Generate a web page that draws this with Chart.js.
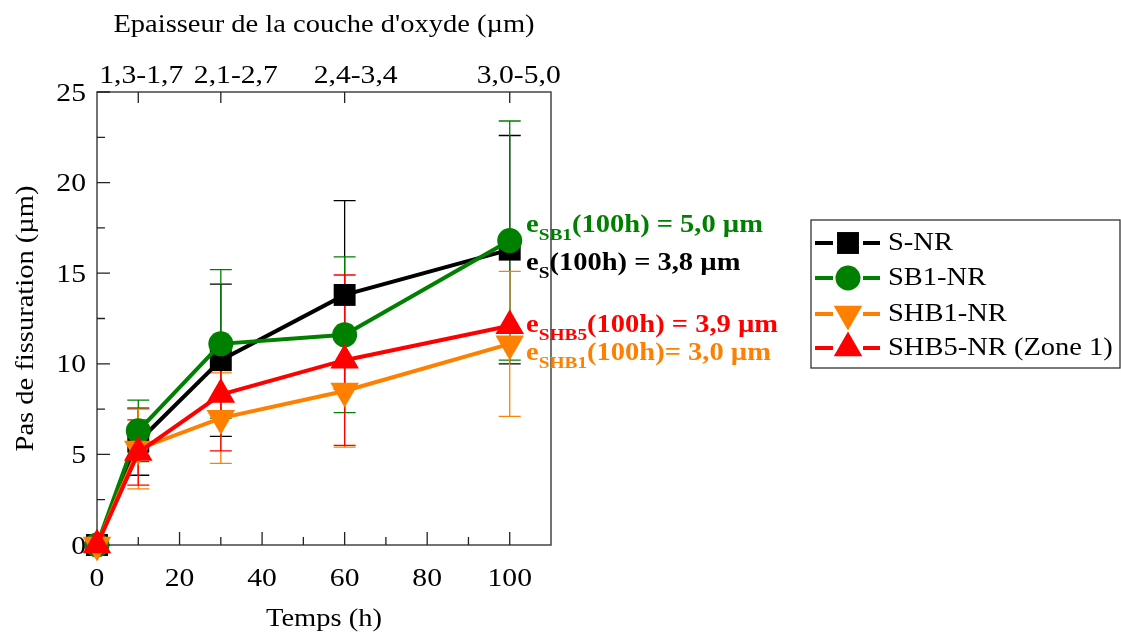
<!DOCTYPE html>
<html><head><meta charset="utf-8">
<script src="https://cdn.jsdelivr.net/npm/chart.js@4/dist/chart.umd.min.js"></script>
<style>html,body{margin:0;padding:0;background:#fff}canvas{display:block}</style>
</head><body>
<canvas id="c" width="1121" height="635" style="width:1121px;height:635px"></canvas>
<script>
// ---- data ----
const times = [0, 10, 30, 60, 100];
const sNR = [0, 5.7, 10.2, 13.8, 16.3];
const sNRErr = [0, 1.85, 4.2, 5.2, 6.3];
const sb1NR = [0, 6.3, 11.1, 11.6, 16.8];
const sb1NRErr = [0, 1.7, 4.1, 4.3, 6.6];
const shb1NR = [0, 5.3, 7.0, 8.5, 11.1];
const shb1NRErr = [0, 2.2, 2.5, 3.1, 4.0];
const shb5NR = [0, 5.1, 8.3, 10.2, 12.1];
const shb5NRErr = [0, 1.8, 3.1, 4.7, 0];
const seriesNames = ['S-NR', 'SB1-NR', 'SHB1-NR', 'SHB5-NR (Zone 1)'];
const xTicks = [0, 20, 40, 60, 80, 100];
const xMinorTicks = [10, 30, 50, 70, 90];
const yTicks = [0, 5, 10, 15, 20, 25];
const yMinorTicks = [2.5, 7.5, 12.5, 17.5, 22.5];
const topTickTimes = [10, 30, 60, 100];
const topTickLabels = ['1,3-1,7', '2,1-2,7', '2,4-3,4', '3,0-5,0'];
const xTitle = 'Temps (h)';
const yTitle = 'Pas de fissuration (µm)';
const topTitle = "Epaisseur de la couche d'oxyde (µm)";
const annoSub = ['SB1', 'S', 'SHB5', 'SHB1'];
const annoRest = ['(100h) = 5,0 µm', '(100h) = 3,8 µm', '(100h) = 3,9 µm', '(100h)= 3,0 µm'];

// ---- styles ----
const colors = ['#000000', '#008000', '#FF8000', '#FF0000'];
const styles = [
  {pointStyle: 'rect', radius: 15.5, rotation: 0},
  {pointStyle: 'circle', radius: 12.5, rotation: 0},
  {pointStyle: 'triangle', radius: 16.5, rotation: 180},
  {pointStyle: 'triangle', radius: 16.5, rotation: 0}
];
const topLabelShift = [3, 15, 11, 9];
const values = [sNR, sb1NR, shb1NR, shb5NR];
const errors = [sNRErr, sb1NRErr, shb1NRErr, shb5NRErr];
const annoColors = ['#008000', '#000000', '#FF0000', '#FF8000'];
const annoBaselines = [232, 270, 332, 360];
const FONT = '"Liberation Serif", "Times New Roman", serif';
const SX = 1.14;

function txt(ctx, s, x, y, size, o) {
  o = o || {};
  ctx.save();
  ctx.font = (o.bold ? 'bold ' : '') + size + 'px ' + FONT;
  ctx.fillStyle = o.color || '#000';
  ctx.textBaseline = o.baseline || 'alphabetic';
  ctx.textAlign = o.align || 'left';
  ctx.translate(x, y);
  if (o.rot) ctx.rotate(o.rot);
  ctx.scale(SX, 1);
  ctx.fillText(s, 0, 0);
  ctx.restore();
}
function tw(ctx, s, size, bold) {
  ctx.save();
  ctx.font = (bold ? 'bold ' : '') + size + 'px ' + FONT;
  const w = ctx.measureText(s).width * SX;
  ctx.restore();
  return w;
}

const decor = {
  id: 'decor',
  beforeDraw(chart) {
    const ctx = chart.ctx;
    ctx.save();
    ctx.fillStyle = '#fff';
    ctx.fillRect(0, 0, chart.width, chart.height);
    ctx.restore();
  },
  beforeDatasetsDraw(chart) {
    const ctx = chart.ctx, a = chart.chartArea;
    const xs = chart.scales.x, ys = chart.scales.y, xt = chart.scales.x2;
    ctx.save();
    // frame
    ctx.strokeStyle = '#444';
    ctx.lineWidth = 1.5;
    ctx.strokeRect(a.left, a.top, a.right - a.left, a.bottom - a.top);
    ctx.strokeStyle = '#222';
    ctx.lineWidth = 1.3;
    ctx.beginPath();
    xs.ticks.forEach(t => { const p = xs.getPixelForValue(t.value); ctx.moveTo(p, a.bottom); ctx.lineTo(p, a.bottom - 13); });
    xMinorTicks.forEach(v => { const p = xs.getPixelForValue(v); ctx.moveTo(p, a.bottom); ctx.lineTo(p, a.bottom - 8); });
    ys.ticks.forEach(t => { const p = ys.getPixelForValue(t.value); ctx.moveTo(a.left, p); ctx.lineTo(a.left + 13, p); });
    yMinorTicks.forEach(v => { const p = ys.getPixelForValue(v); ctx.moveTo(a.left, p); ctx.lineTo(a.left + 8, p); });
    xt.ticks.forEach(t => { const p = xt.getPixelForValue(t.value); ctx.moveTo(p, a.top); ctx.lineTo(p, a.top + 11); });
    ctx.stroke();
    // tick labels
    xs.ticks.forEach(t => txt(ctx, String(t.value), xs.getPixelForValue(t.value), 586, 26, {align: 'center'}));
    ys.ticks.forEach(t => txt(ctx, String(t.value), a.left - 11, ys.getPixelForValue(t.value) + 8.5, 26, {align: 'right'}));
    xt.ticks.forEach(t => {
      const k = topTickTimes.indexOf(t.value);
      txt(ctx, topTickLabels[k], xt.getPixelForValue(t.value) + topLabelShift[k], 83, 26, {align: 'center'});
    });
    // error bars
    ctx.lineWidth = 1.3;
    values.forEach((vals, si) => {
      ctx.strokeStyle = colors[si];
      ctx.beginPath();
      vals.forEach((v, i) => {
        const e = errors[si][i];
        if (!e) return;
        const px = xs.getPixelForValue(times[i]);
        const pt = ys.getPixelForValue(v + e), pb = ys.getPixelForValue(v - e);
        ctx.moveTo(px, pt); ctx.lineTo(px, pb);
        ctx.moveTo(px - 11, pt); ctx.lineTo(px + 11, pt);
        ctx.moveTo(px - 11, pb); ctx.lineTo(px + 11, pb);
      });
      ctx.stroke();
    });
    ctx.restore();
  },
  afterDraw(chart) {
    const ctx = chart.ctx, a = chart.chartArea;
    const cx = (a.left + a.right) / 2, cy = (a.top + a.bottom) / 2;
    txt(ctx, topTitle, cx, 32, 25, {align: 'center'});
    txt(ctx, xTitle, cx, 626, 25, {align: 'center'});
    txt(ctx, yTitle, 33, cy, 25, {align: 'center', rot: -Math.PI / 2});
    // annotations
    annoSub.forEach((sub, i) => {
      let x = 526;
      const b = annoBaselines[i];
      const c = annoColors[i];
      txt(ctx, 'e', x, b, 25, {bold: true, color: c});
      x += tw(ctx, 'e', 25, true);
      txt(ctx, sub, x, b + 8, 17, {bold: true, color: c});
      x += tw(ctx, sub, 17, true);
      txt(ctx, annoRest[i], x, b, 25, {bold: true, color: c});
    });
    // legend
    ctx.save();
    ctx.strokeStyle = '#333';
    ctx.lineWidth = 1.3;
    ctx.strokeRect(811, 220, 309, 148);
    const rows = [243, 278, 314, 348];
    seriesNames.forEach((name, i) => {
      const y = rows[i];
      ctx.strokeStyle = colors[i];
      ctx.fillStyle = colors[i];
      ctx.lineWidth = 4;
      ctx.beginPath();
      ctx.moveTo(815, y); ctx.lineTo(833, y);
      ctx.moveTo(863, y); ctx.lineTo(880, y);
      ctx.stroke();
      Chart.helpers.drawPoint(ctx, {pointStyle: styles[i].pointStyle, radius: styles[i].radius, rotation: styles[i].rotation, borderWidth: 0}, 848, y);
      txt(ctx, name, 888, y, 25, {baseline: 'middle'});
    });
    ctx.restore();
  }
};

const datasets = values.map((vals, si) => ({
  label: seriesNames[si],
  data: times.map((t, i) => ({x: t, y: vals[i]})),
  borderColor: colors[si],
  backgroundColor: colors[si],
  borderWidth: 4,
  showLine: true,
  pointStyle: styles[si].pointStyle,
  pointRadius: styles[si].radius,
  pointHoverRadius: styles[si].radius,
  pointRotation: styles[si].rotation,
  pointBorderWidth: 0,
  pointBackgroundColor: colors[si],
  clip: false,
  order: 4 - si
}));

new Chart(document.getElementById('c'), {
  type: 'scatter',
  data: {datasets},
  options: {
    responsive: false,
    animation: false,
    events: [],
    layout: {padding: {left: 0, right: 570, top: 0, bottom: 0}},
    plugins: {legend: {display: false}, tooltip: {enabled: false}, title: {display: false}},
    scales: {
      x: {
        type: 'linear', position: 'bottom', min: 0, max: 110,
        afterBuildTicks: s => { s.ticks = xTicks.map(v => ({value: v})); },
        afterFit: s => { s.height = 90; },
        grid: {display: false, drawTicks: false},
        border: {display: false},
        ticks: {display: false}
      },
      x2: {
        type: 'linear', position: 'top', min: 0, max: 110,
        afterBuildTicks: s => { s.ticks = topTickTimes.map(v => ({value: v})); },
        afterFit: s => { s.height = 92; },
        grid: {display: false, drawTicks: false},
        border: {display: false},
        ticks: {display: false}
      },
      y: {
        type: 'linear', position: 'left', min: 0, max: 25,
        afterBuildTicks: s => { s.ticks = yTicks.map(v => ({value: v})); },
        afterFit: s => { s.width = 97; },
        grid: {display: false, drawTicks: false},
        border: {display: false},
        ticks: {display: false}
      }
    }
  },
  plugins: [decor]
});
</script>
</body></html>
